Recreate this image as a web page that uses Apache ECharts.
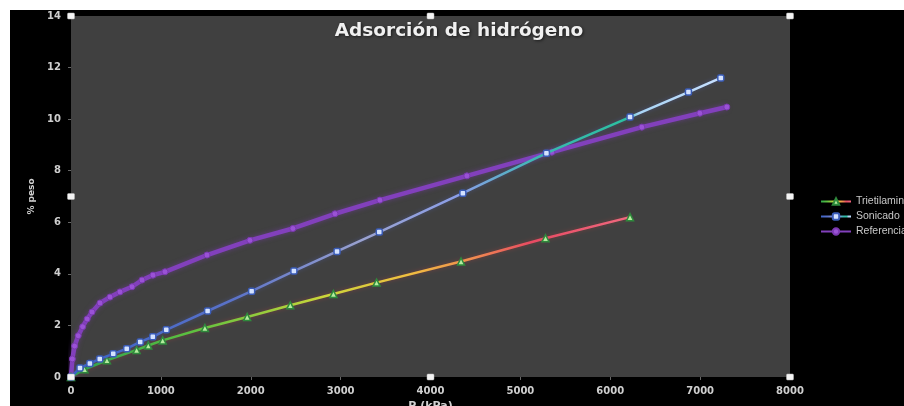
<!DOCTYPE html>
<html>
<head>
<meta charset="utf-8">
<script src="https://cdn.jsdelivr.net/npm/echarts@6/dist/echarts.min.js"></script>
<style>
html,body{margin:0;padding:0;background:#fff;width:904px;height:406px;overflow:hidden;}
#c{position:absolute;left:10px;top:10px;width:894px;height:396px;background:#000;}
</style>
</head>
<body>
<div id="c"></div>
<script>
// ---- data ----
const seriesNames = ['Trietilamina', 'Sonicado', 'Referencia'];
const trietP = [0, 150, 400, 730, 860, 1020, 1490, 1960, 2440, 2920, 3400, 4340, 5280, 6220];
const trietW = [0, 0.3, 0.65, 1.05, 1.22, 1.42, 1.9, 2.33, 2.78, 3.22, 3.66, 4.48, 5.38, 6.2];
const sonP = [0, 100, 210, 320, 470, 620, 770, 910, 1060, 1520, 2010, 2480, 2960, 3430, 4360, 5290, 6220, 6870, 7230];
const sonW = [0, 0.35, 0.52, 0.7, 0.9, 1.1, 1.36, 1.56, 1.83, 2.56, 3.33, 4.11, 4.87, 5.62, 7.13, 8.68, 10.08, 11.05, 11.6];
const refP = [0, 15, 40, 80, 130, 180, 234, 323, 434, 545, 679, 790, 912, 1046, 1513, 1991, 2469, 2937, 3437, 4405, 5350, 6351, 6997, 7297];
const refW = [0, 0.7, 1.2, 1.6, 1.95, 2.25, 2.52, 2.87, 3.1, 3.3, 3.5, 3.76, 3.95, 4.08, 4.73, 5.3, 5.76, 6.33, 6.86, 7.8, 8.72, 9.69, 10.23, 10.47];
const xTicks = [0, 1000, 2000, 3000, 4000, 5000, 6000, 7000, 8000];
const yTicks = [0, 2, 4, 6, 8, 10, 12, 14];

function pairs(xs, ys){ return xs.map((x,i)=>[x, ys[i]]); }

const chart = echarts.init(document.getElementById('c'));
const labelFont = {color:'#cfcfcf', fontSize:10, fontFamily:'DejaVu Sans', fontWeight:'bold'};

const option = {
  backgroundColor:'#000',
  animation:false,
  title:{
    text:'Adsorción de hidrógeno', left:444, top:7, textAlign:'center',
    textStyle:{color:'#f0f0f0', fontSize:18.5, fontWeight:'bold', fontFamily:'DejaVu Sans',
      textShadowColor:'rgba(0,0,0,0.6)', textShadowBlur:3, textShadowOffsetX:1, textShadowOffsetY:1}
  },
  legend:{
    orient:'vertical', left:805, top:181, itemWidth:30, itemHeight:8, itemGap:4,
    data:seriesNames,
    textStyle:{color:'#c8c8c8', fontSize:10.5, fontFamily:'Liberation Sans'}
  },
  grid:{left:61, top:6, right:114, bottom:29, show:true, backgroundColor:'#404040', borderWidth:0,
    containLabel:false, outerBoundsMode:'none'},
  xAxis:{
    type:'value', min:xTicks[0], max:xTicks[xTicks.length-1], interval:1000,
    name:'P (kPa)', nameLocation:'middle', nameGap:24,
    nameTextStyle:{color:'#d0d0d0', fontSize:11, fontWeight:'bold', fontFamily:'DejaVu Sans', verticalAlign:'top'},
    axisLine:{show:false}, axisTick:{show:true, length:3, lineStyle:{color:'#666'}},
    splitLine:{show:false},
    axisLabel:Object.assign({margin:9, formatter:(v)=>String(v)}, labelFont)
  },
  yAxis:{
    type:'value', min:yTicks[0], max:yTicks[yTicks.length-1], interval:2,
    name:'% peso', nameLocation:'middle', nameGap:33, nameRotate:90,
    nameTextStyle:{color:'#d0d0d0', fontSize:9, fontWeight:'bold', fontFamily:'DejaVu Sans'},
    axisLine:{show:false}, axisTick:{show:true, length:3, lineStyle:{color:'#666'}},
    splitLine:{show:false}, axisLabel:Object.assign({margin:10}, labelFont)
  },
  series:[
    {
      name:seriesNames[0], type:'line', data:pairs(trietP, trietW),
      symbol:'triangle', symbolSize:7,
      itemStyle:{color:'#b5ec9e', borderColor:'#2e8a3c', borderWidth:1.5},
      lineStyle:{width:2.5, shadowBlur:4, shadowColor:'rgba(200,60,60,0.4)',
        color:{type:'linear', x:0, y:0, x2:1, y2:0, colorStops:[
          {offset:0, color:'#2aa34a'}, {offset:0.22, color:'#5dc040'},
          {offset:0.45, color:'#c9d63a'}, {offset:0.6, color:'#f0c040'},
          {offset:0.72, color:'#f08a50'}, {offset:0.82, color:'#e84a62'},
          {offset:1, color:'#f06a80'}]}},
      z:3
    },
    {
      name:seriesNames[1], type:'line', data:pairs(sonP, sonW),
      symbol:'roundRect', symbolSize:6,
      itemStyle:{color:'#d4e2ff', borderColor:'#3a5cb8', borderWidth:1.5},
      lineStyle:{width:2.5, shadowBlur:4, shadowColor:'rgba(80,100,200,0.4)',
        color:{type:'linear', x:0, y:0, x2:1, y2:0, colorStops:[
          {offset:0, color:'#3a62c8'}, {offset:0.25, color:'#5a72c8'},
          {offset:0.45, color:'#9aa2d0'}, {offset:0.6, color:'#8a9ee8'},
          {offset:0.72, color:'#3ab8b0'}, {offset:0.85, color:'#2cc0a0'},
          {offset:0.87, color:'#a8d4f4'}, {offset:1, color:'#c8e0ff'}]}},
      z:4
    },
    {
      name:seriesNames[2], type:'line', data:pairs(refP, refW),
      symbol:'circle', symbolSize:6,
      itemStyle:{color:'#9a52d6', borderColor:'#7a38b0', borderWidth:1},
      lineStyle:{width:4.5, color:'#8240bc', shadowBlur:5, shadowColor:'rgba(130,60,190,0.5)'},
      z:2
    }
  ]
};
chart.setOption(option);

// Excel-style selection handles at the plot-area corners and mid-edges
const p00 = chart.convertToPixel({gridIndex:0}, [xTicks[0], yTicks[0]]);
const p11 = chart.convertToPixel({gridIndex:0}, [xTicks[xTicks.length-1], yTicks[yTicks.length-1]]);
const xs = [p00[0], (p00[0]+p11[0])/2, p11[0]];
const ys = [p11[1], (p00[1]+p11[1])/2, p00[1]];
const handles = [];
xs.forEach((hx,i)=>ys.forEach((hy,j)=>{
  if(i===1 && j===1) return;
  handles.push({type:'rect', shape:{x:hx-3.5, y:hy-3, width:7, height:6, r:1},
    style:{fill:'#f4f4f4', stroke:'#bbb', lineWidth:0.5}, z:100});
}));
chart.setOption({graphic:handles});
</script>
</body>
</html>
